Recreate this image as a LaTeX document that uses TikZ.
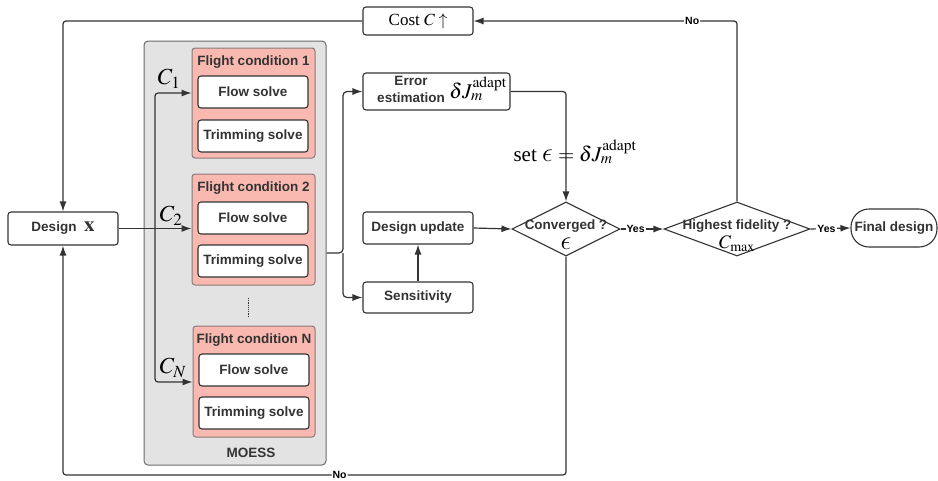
\RequirePackage{fix-cm}
\documentclass[tikz,border=0pt]{standalone}
\usepackage{mathptmx}
\DeclareSymbolFont{cmletters}{OML}{cmm}{m}{it}
\DeclareMathSymbol{\lunate}{\mathord}{cmletters}{"0F}
\usepackage{fontspec}
\newfontfamily\lsans{Liberation Sans}
\newfontfamily\lserif{Liberation Serif}
\usetikzlibrary{arrows.meta,shapes.geometric}
\definecolor{ln}{HTML}{333333}
\definecolor{gfill}{HTML}{E3E3E3}
\definecolor{gedge}{HTML}{6A6A6A}
\definecolor{pk}{HTML}{F9B9B0}
\definecolor{pedge}{HTML}{8A7A78}
\newcommand{\bigeps}{\mbox{\fontsize{27}{27}\selectfont$\lunate$}}
\begin{document}
\begin{tikzpicture}[x=1pt,y=-1pt,
  box/.style={draw=ln, line width=1.1pt, rounded corners=3pt, fill=white, inner sep=0pt,
    font=\lsans\bfseries\fontsize{13.5}{15}\selectfont, text=ln},
  solvebox/.style={box, minimum width=110pt, minimum height=32pt},
  pinkbox/.style={draw=pedge, line width=1pt, rounded corners=3pt, fill=pk, inner sep=0pt,
    minimum width=123pt, minimum height=111pt},
  ttl/.style={font=\lsans\bfseries\fontsize{13.5}{15}\selectfont, text=ln, inner sep=0pt},
  mth/.style={inner sep=0pt, text=black},
  diam/.style={draw=ln, line width=1.1pt, diamond, inner sep=0pt, fill=white},
  yn/.style={font=\lsans\bfseries\fontsize{10.5}{12}\selectfont, text=black, fill=white, inner sep=1pt},
  arr/.style={draw=ln, line width=1.2pt, -{Latex[length=10pt,width=7pt]}},
  ln/.style={draw=ln, line width=1.2pt}
]
\useasboundingbox (0,0) rectangle (938,480);

% MOESS container
\node[draw=gedge, line width=1pt, fill=gfill, rounded corners=4pt, minimum width=182pt, minimum height=424pt, inner sep=0pt] (moess) at (235,253) {};
\node[ttl] (moesslbl) at (251,453) {MOESS};

% Flight conditions
\node[pinkbox, minimum height=110pt] (fc1) at (253.5,103) {};
\node[ttl] (fc1t) at (253.5,62) {Flight condition 1};
\node[solvebox] (flow1) at (253,92) {Flow solve};
\node[solvebox] (trim1) at (253,136) {Trimming solve};

\node[pinkbox] (fc2) at (253.5,229.5) {};
\node[ttl] (fc2t) at (253.5,188) {Flight condition 2};
\node[solvebox] (flow2) at (253,218) {Flow solve};
\node[solvebox] (trim2) at (253,261) {Trimming solve};

\node[pinkbox, minimum width=122pt] (fcN) at (254,381.5) {};
\node[ttl] (fcNt) at (254,340) {Flight condition N};
\node[solvebox] (flowN) at (254,370) {Flow solve};
\node[solvebox] (trimN) at (254,413) {Trimming solve};

\draw[ln, densely dotted, line width=1pt] (248,298) -- (248,317);

% Design
\node[box, minimum width=110pt, minimum height=33pt] (design) at (63,228.5) {Design\ \ {\fontsize{21}{21}\selectfont$\mathbf{x}$}};

% C bus
\coordinate (bus) at (155,228.5);
\draw[arr] (design.east) -- (fc2.west |- design.east);
\draw[arr, rounded corners=3pt] (bus) |- (fc1.west |- 0,93);
\draw[arr, rounded corners=3pt] (bus) |- (fcN.west |- 0,382);
\node[mth] (c1) at (169,79) {\fontsize{23}{23}\selectfont$C_1$};
\node[mth] (c2) at (171,216) {\fontsize{23}{23}\selectfont$C_2$};
\node[mth] (cN) at (173,368) {\fontsize{23}{23}\selectfont$C_N$};

% right-side boxes
\node[box, minimum width=147pt, minimum height=37pt] (err) at (436.5,91.5) {};
\node[ttl] (errt1) at (411,81) {Error};
\node[ttl] (errt2) at (411,98) {estimation};
\node[mth] (errm) at (478,89) {\fontsize{21}{21}\selectfont$\delta J_m^{\mathrm{adapt}}$};

\node[box, minimum width=110pt, minimum height=32pt] (dupd) at (418,228) {Design update};
\node[box, minimum width=110pt, minimum height=31pt] (sens) at (418,297.5) {Sensitivity};
\node[box, minimum width=110pt, minimum height=28pt, font=\lserif\fontsize{17}{17}\selectfont, text=black] (cost) at (418,21) {Cost $C\uparrow$};

% split junction
\coordinate (j) at (343,253);
\draw[arr, rounded corners=4pt] (moess.east) -- (j) |- (err.west);
\draw[arr, rounded corners=4pt] (j) |- (sens.west);
\draw[arr] (sens.north) -- (dupd.south);

% diamonds
\node[diam, minimum width=108pt, minimum height=54pt] (conv) at (566,229) {};
\node[ttl] (convt) at (566,226.5) {Converged ?};
\node[mth] (conve) at (566,244) {\bigeps};

\node[diam, minimum width=146pt, minimum height=54pt] (hf) at (737,229) {};
\node[ttl] (hft) at (737,226.5) {Highest fidelity ?};
\node[mth] (hfc) at (737,244) {\fontsize{19}{19}\selectfont$C_{\max}$};

\node[box, rounded corners=18pt, minimum width=86pt, minimum height=38pt] (final) at (894,228) {Final design};

% connectors
\draw[arr, rounded corners=3pt] (err.east) -| (conv.north);
\node[mth] (setl) at (575,152) {\lserif\fontsize{21}{21}\selectfont set \bigeps\ $=\delta J_m^{\mathrm{adapt}}$};
\draw[arr] (dupd.east) -- (conv.west);
\draw[arr] (conv.east) -- node[yn, pos=0.35] {Yes} (hf.west);
\draw[arr] (hf.east) -- node[yn, pos=0.4] {Yes} (final.west);
\draw[arr, rounded corners=3pt] (hf.north) |- node[yn, pos=0.585] {No} (cost.east);
\draw[arr, rounded corners=3pt] (cost.west) -| (design.north);
\draw[arr, rounded corners=3pt] (conv.south) -- (conv.south |- 0,475) -| node[yn, pos=0.225] {No} (design.south);
\end{tikzpicture}
\end{document}
